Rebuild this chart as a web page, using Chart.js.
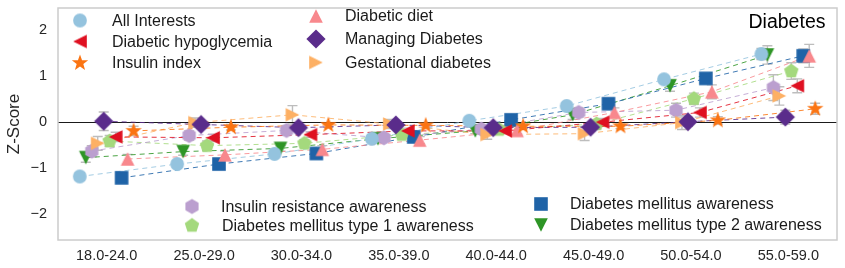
<!DOCTYPE html>
<html>
<head>
<meta charset="utf-8">
<script src="https://cdn.jsdelivr.net/npm/chart.js@4.4.1/dist/chart.umd.min.js"></script>
<style>
  html, body { margin: 0; padding: 0; background: #fff; }
</style>
</head>
<body>
<canvas id="grafica" width="845" height="268"></canvas>
<script>
// datos (Z-Score por grupo de edad)
const categorias = ["18.0-24.0", "25.0-29.0", "30.0-34.0", "35.0-39.0", "40.0-44.0", "45.0-49.0", "50.0-54.0", "55.0-59.0"];
const ticksY = [-2, -1, 0, 1, 2];

const allInterests   = [-1.18, -0.91, -0.69, -0.36, 0.03, 0.35, 0.93, 1.48];
const hipoglucemia   = [-0.32, -0.34, -0.27, -0.19, -0.19, 0.00, 0.21, 0.79];
const insulinIndex   = [-0.19, -0.11, -0.06, -0.07, -0.09, -0.09, 0.04, 0.29];
const dietaDiabetica = [-0.80, -0.71, -0.59, -0.39, -0.18, 0.21, 0.66, 1.44];
const managing       = [0.02, -0.05, -0.12, -0.06, -0.12, -0.11, 0.01, 0.11];
const gestacional    = [-0.46, -0.01, 0.16, -0.04, -0.27, -0.25, -0.01, 0.57];
const resistencia    = [-0.63, -0.29, -0.18, -0.34, -0.15, 0.21, 0.26, 0.75];
const tipo1          = [-0.41, -0.51, -0.46, -0.27, -0.16, -0.04, 0.51, 1.11];
const dmAwareness    = [-1.21, -0.91, -0.68, -0.32, 0.05, 0.40, 0.95, 1.44];
const tipo2          = [-0.77, -0.64, -0.57, -0.36, -0.19, 0.16, 0.79, 1.46];

// barras de error (aprox.)
const errAll   = [0.08, 0.06, 0.05, 0.05, 0.05, 0.06, 0.08, 0.12];
const errHipo  = [0.10, 0.08, 0.06, 0.06, 0.06, 0.08, 0.10, 0.15];
const errIns   = [0.10, 0.06, 0.05, 0.05, 0.05, 0.05, 0.08, 0.12];
const errDieta = [0.10, 0.08, 0.08, 0.08, 0.08, 0.10, 0.15, 0.25];
const errMan   = [0.20, 0.08, 0.06, 0.05, 0.06, 0.08, 0.10, 0.15];
const errGest  = [0.15, 0.10, 0.20, 0.10, 0.10, 0.15, 0.15, 0.20];
const errRes   = [0.12, 0.10, 0.10, 0.06, 0.08, 0.10, 0.15, 0.28];
const errT1    = [0.12, 0.10, 0.08, 0.06, 0.06, 0.08, 0.12, 0.18];
const errDM    = [0.08, 0.06, 0.05, 0.05, 0.06, 0.08, 0.10, 0.15];
const errT2    = [0.10, 0.08, 0.06, 0.06, 0.06, 0.10, 0.12, 0.20];

// series: datos + estilo (forma, color, desplazamiento dentro del grupo)
const series = [
  { label: "All Interests",          data: allInterests,   err: errAll,   color: "#94c3de", forma: "o", dodge: -27 },
  { label: "Diabetic hypoglycemia",  data: hipoglucemia,   err: errHipo,  color: "#df1021", forma: "<", dodge: 9 },
  { label: "Insulin index",          data: insulinIndex,   err: errIns,   color: "#fb7412", forma: "*", dodge: 27 },
  { label: "Diabetic diet",          data: dietaDiabetica, err: errDieta, color: "#f8888d", forma: "^", dodge: 21 },
  { label: "Managing Diabetes",      data: managing,       err: errMan,   color: "#5a2c8b", forma: "D", dodge: -3 },
  { label: "Gestational diabetes",   data: gestacional,    err: errGest,  color: "#fdb064", forma: ">", dodge: -9 },
  { label: "Insulin resistance awareness",       data: resistencia, err: errRes, color: "#bb9fcf", forma: "h", dodge: -15 },
  { label: "Diabetes mellitus type 1 awareness", data: tipo1,       err: errT1,  color: "#a4d97d", forma: "p", dodge: 3 },
  { label: "Diabetes mellitus awareness",        data: dmAwareness, err: errDM,  color: "#1f63a7", forma: "s", dodge: 15 },
  { label: "Diabetes mellitus type 2 awareness", data: tipo2,       err: errT2,  color: "#2e9526", forma: "v", dodge: -21 }
];

const PX_CATEGORIA = 97.8;
const FUENTE = "'Liberation Sans', Arial, sans-serif";
const TEXTO = "#262626";

// marcadores dibujados en un canvas pequeño
function crearMarcador(forma, color) {
  const s = 22, m = 11;
  const c = document.createElement("canvas");
  c.width = s; c.height = s;
  const g = c.getContext("2d");
  g.fillStyle = color;
  g.beginPath();
  const poligono = (n, r, inicio) => {
    for (let k = 0; k < n; k++) {
      const a = inicio + k * 2 * Math.PI / n;
      const px = m + r * Math.cos(a), py = m + r * Math.sin(a);
      if (k === 0) g.moveTo(px, py); else g.lineTo(px, py);
    }
  };
  const h = 6.8;
  if (forma === "o") g.arc(m, m, 6.9, 0, Math.PI * 2);
  else if (forma === "s") g.rect(m - h, m - h, 2 * h, 2 * h);
  else if (forma === "D") { g.moveTo(m, m - 9.6); g.lineTo(m + 9.6, m); g.lineTo(m, m + 9.6); g.lineTo(m - 9.6, m); }
  else if (forma === "^") { g.moveTo(m, m - h); g.lineTo(m + h, m + h); g.lineTo(m - h, m + h); }
  else if (forma === "v") { g.moveTo(m, m + h); g.lineTo(m + h, m - h); g.lineTo(m - h, m - h); }
  else if (forma === "<") { g.moveTo(m - h, m); g.lineTo(m + h, m - h); g.lineTo(m + h, m + h); }
  else if (forma === ">") { g.moveTo(m + h, m); g.lineTo(m - h, m - h); g.lineTo(m - h, m + h); }
  else if (forma === "p") poligono(5, 7.6, -Math.PI / 2);
  else if (forma === "h") poligono(6, 7.6, -Math.PI / 2);
  else if (forma === "*") {
    for (let k = 0; k < 10; k++) {
      const r = k % 2 === 0 ? 8.6 : 3.5;
      const a = -Math.PI / 2 + k * Math.PI / 5;
      const px = m + r * Math.cos(a), py = m + r * Math.sin(a);
      if (k === 0) g.moveTo(px, py); else g.lineTo(px, py);
    }
  }
  g.closePath();
  g.fill();
  return c;
}

series.forEach(s => { s.marcador = crearMarcador(s.forma, s.color); });

function hexAlpha(hex, a) {
  const n = parseInt(hex.slice(1), 16);
  return `rgba(${(n >> 16) & 255}, ${(n >> 8) & 255}, ${n & 255}, ${a})`;
}

const puntos = s => s.data.map((v, i) => ({ x: i + s.dodge / PX_CATEGORIA, y: v }));

const datasets = [];
series.forEach((s, k) => {
  // línea discontinua
  datasets.push({
    data: puntos(s),
    showLine: true,
    borderColor: hexAlpha(s.color, 0.85),
    borderWidth: 1,
    borderDash: [5, 4],
    pointRadius: 0,
    fill: false,
    order: 30 + k
  });
  // marcadores
  datasets.push({
    data: puntos(s),
    showLine: false,
    pointStyle: s.marcador,
    pointRadius: 7,
    order: k
  });
});

// marco, línea de cero, barras de error, leyendas y título
const extras = {
  id: "extras",
  beforeDatasetsDraw(chart) {
    const { ctx, chartArea: a, scales: { x, y } } = chart;
    ctx.save();
    // barras de error
    ctx.strokeStyle = "#bdbdbd";
    ctx.lineWidth = 1.4;
    series.forEach(s => {
      s.data.forEach((v, i) => {
        const px = x.getPixelForValue(i + s.dodge / PX_CATEGORIA);
        const y1 = y.getPixelForValue(v - s.err[i]);
        const y2 = y.getPixelForValue(v + s.err[i]);
        ctx.beginPath();
        ctx.moveTo(px, y1); ctx.lineTo(px, y2);
        ctx.moveTo(px - 5, y1); ctx.lineTo(px + 5, y1);
        ctx.moveTo(px - 5, y2); ctx.lineTo(px + 5, y2);
        ctx.stroke();
      });
    });
    // línea en cero
    const y0 = Math.round(y.getPixelForValue(0)) + 0.5;
    ctx.strokeStyle = "#1a1a1a";
    ctx.lineWidth = 1;
    ctx.beginPath();
    ctx.moveTo(a.left, y0); ctx.lineTo(a.right, y0);
    ctx.stroke();
    ctx.restore();
  },
  afterDraw(chart) {
    const { ctx, chartArea: a } = chart;
    ctx.save();
    ctx.strokeStyle = "#cccccc";
    ctx.lineWidth = 1.5;
    ctx.strokeRect(a.left, a.top, a.right - a.left, a.bottom - a.top);

    // leyendas
    const filas = [
      [0, 80, 112, 20.5], [1, 80, 112, 41.5], [2, 80, 112, 63],
      [3, 316, 345, 16], [4, 316, 345, 39], [5, 316, 345, 62.5],
      [6, 192, 221, 206.5], [7, 192, 222, 225.5],
      [8, 541, 570, 204], [9, 541, 570, 225]
    ];
    ctx.font = "16px " + FUENTE;
    ctx.fillStyle = "#1a1a1a";
    ctx.textBaseline = "middle";
    ctx.textAlign = "left";
    filas.forEach(([k, mx, tx, fy]) => {
      const m = series[k].marcador;
      ctx.drawImage(m, mx - m.width / 2, fy - m.height / 2);
      ctx.fillText(series[k].label, tx, fy + 1);
    });

    // título
    ctx.font = "19.5px " + FUENTE;
    ctx.fillStyle = "#000";
    ctx.textAlign = "center";
    ctx.fillText("Diabetes", 787, 23);
    ctx.restore();
  }
};

const ctxGrafica = document.getElementById("grafica").getContext("2d");

new Chart(ctxGrafica, {
  type: "scatter",
  data: { datasets: datasets },
  plugins: [extras],
  options: {
    responsive: false,
    animation: false,
    events: [],
    layout: { padding: { top: 4, right: 5, left: 0, bottom: 0 } },
    plugins: { legend: { display: false }, tooltip: { enabled: false } },
    scales: {
      x: {
        type: "linear",
        min: -0.5,
        max: 7.5,
        grid: { display: false, drawTicks: false },
        border: { display: false },
        afterBuildTicks: s => { s.ticks = categorias.map((_, i) => ({ value: i })); },
        afterFit: s => { s.height = 28; s.paddingLeft = 0; s.paddingRight = 0; },
        ticks: {
          autoSkip: false,
          maxRotation: 0,
          padding: 7,
          color: TEXTO,
          font: { family: FUENTE, size: 14.5 },
          callback: v => categorias[v]
        }
      },
      y: {
        min: -2.56,
        max: 2.48,
        grid: { display: false, drawTicks: false },
        border: { display: false },
        afterBuildTicks: s => { s.ticks = ticksY.map(v => ({ value: v })); },
        afterFit: s => { s.width = 58; s.paddingTop = 0; s.paddingBottom = 0; },
        ticks: {
          padding: 11,
          color: TEXTO,
          font: { family: FUENTE, size: 14.5 },
          callback: v => (v < 0 ? "\u2212" + Math.abs(v) : String(v))
        },
        title: {
          display: true,
          text: "Z-Score",
          color: TEXTO,
          font: { family: FUENTE, size: 17 },
          padding: { top: 4, bottom: 0 }
        }
      }
    }
  }
});
</script>
</body>
</html>
